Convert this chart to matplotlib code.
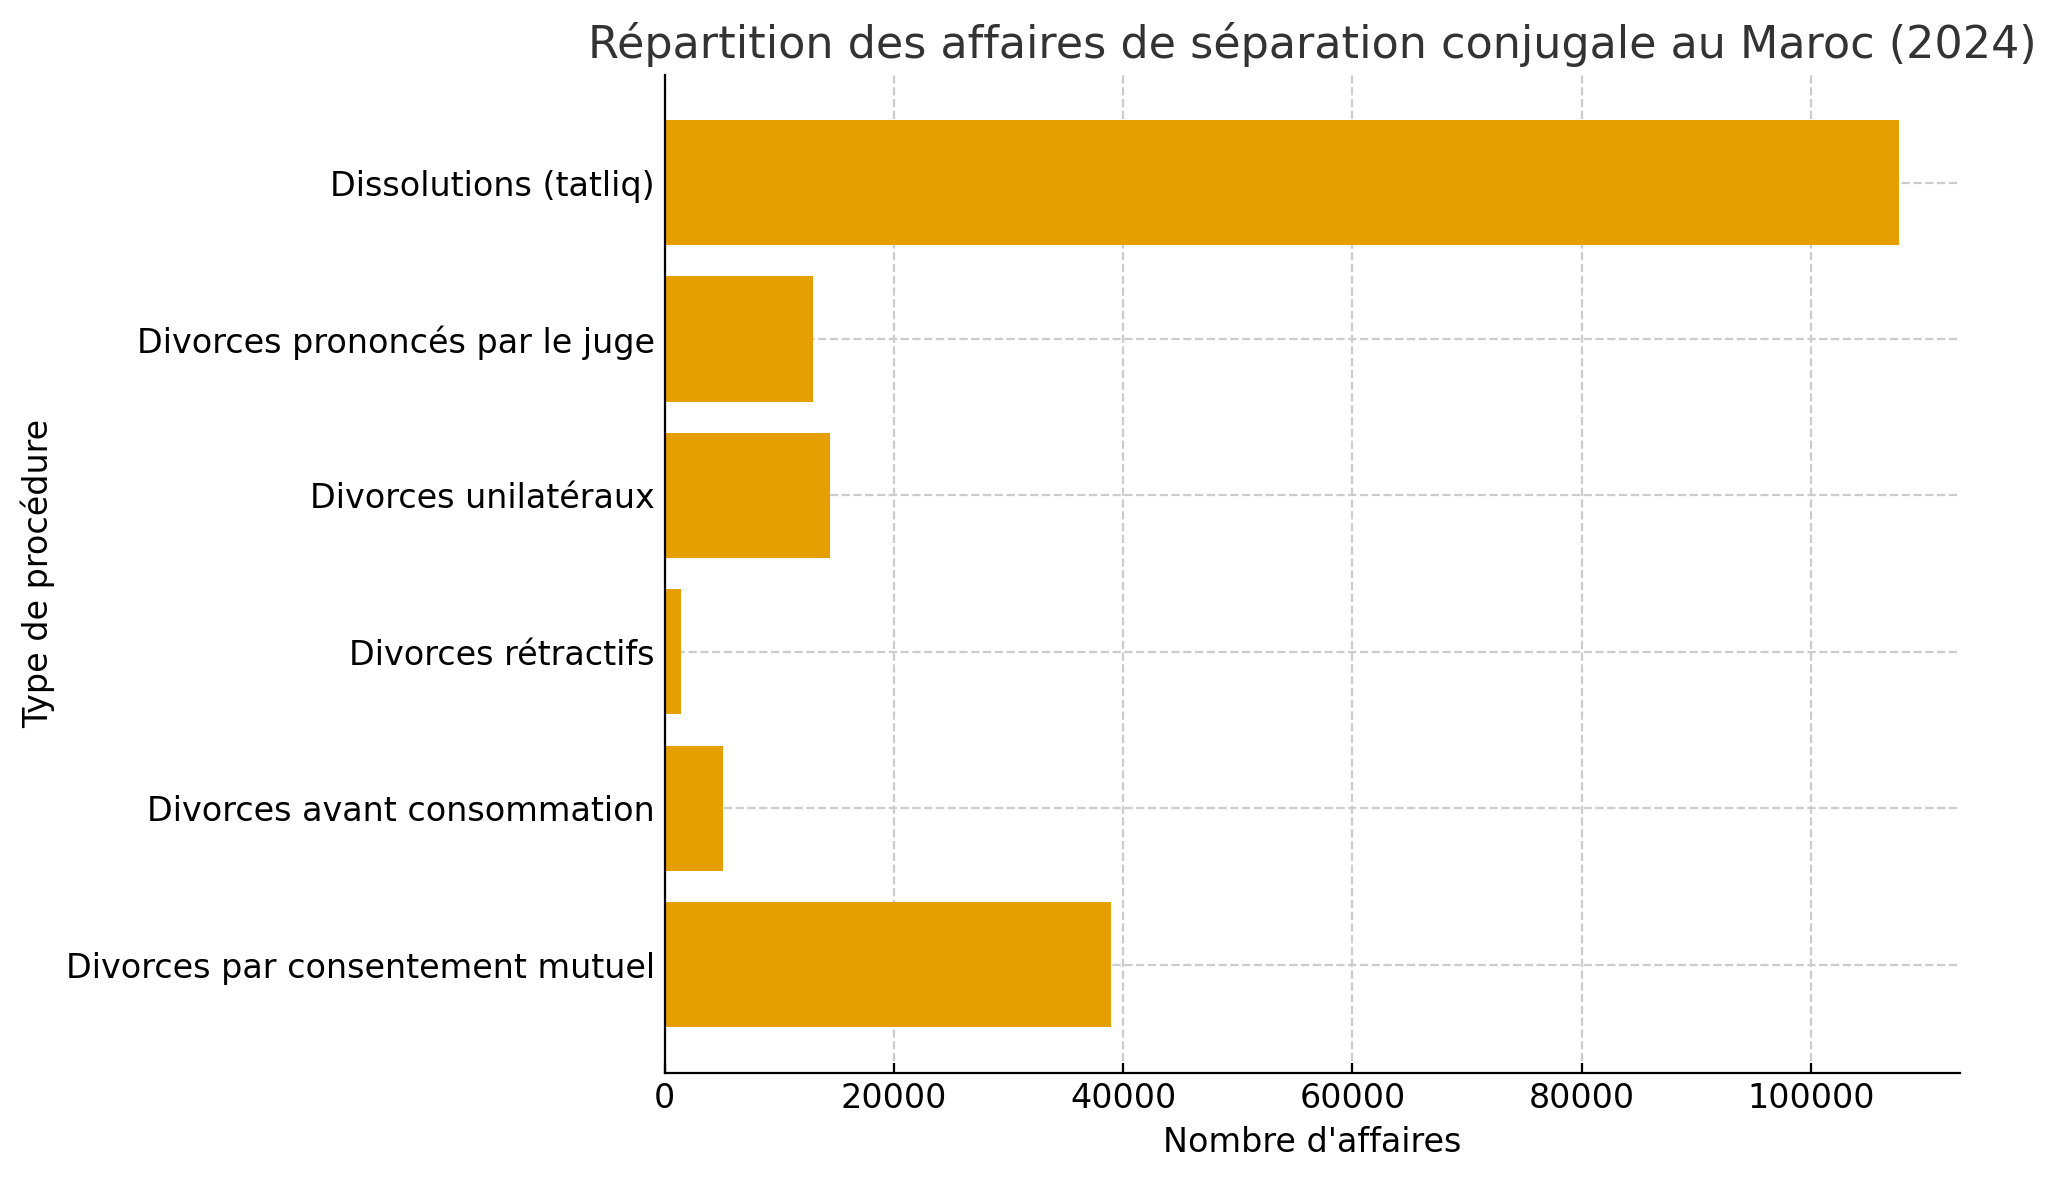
import matplotlib
matplotlib.use('Agg')
import matplotlib.pyplot as plt

categories = ['Divorces par consentement mutuel', 'Divorces avant consommation',
              'Divorces rétractifs', 'Divorces unilatéraux',
              'Divorces prononcés par le juge', 'Dissolutions (tatliq)']
values = [38900, 5060, 1400, 14400, 12970, 107650]

fig, ax = plt.subplots(figsize=(10.28, 5.9), dpi=200)
ax.barh(categories, values, color='#E69F00', height=0.8, zorder=2)
ax.set_title('Répartition des affaires de séparation conjugale au Maroc (2024)',
             fontsize=16, color='#333333')
ax.set_xlabel("Nombre d'affaires", fontsize=12)
ax.set_ylabel('Type de procédure', fontsize=12)
ax.tick_params(labelsize=12, direction='in')
ax.grid(True, linestyle='--', color='#cccccc', linewidth=0.8, zorder=0)
ax.spines['top'].set_visible(False)
ax.spines['right'].set_visible(False)
fig.subplots_adjust(left=0.3233, right=0.9534, top=0.9367, bottom=0.0911)
fig.savefig('out.png')
